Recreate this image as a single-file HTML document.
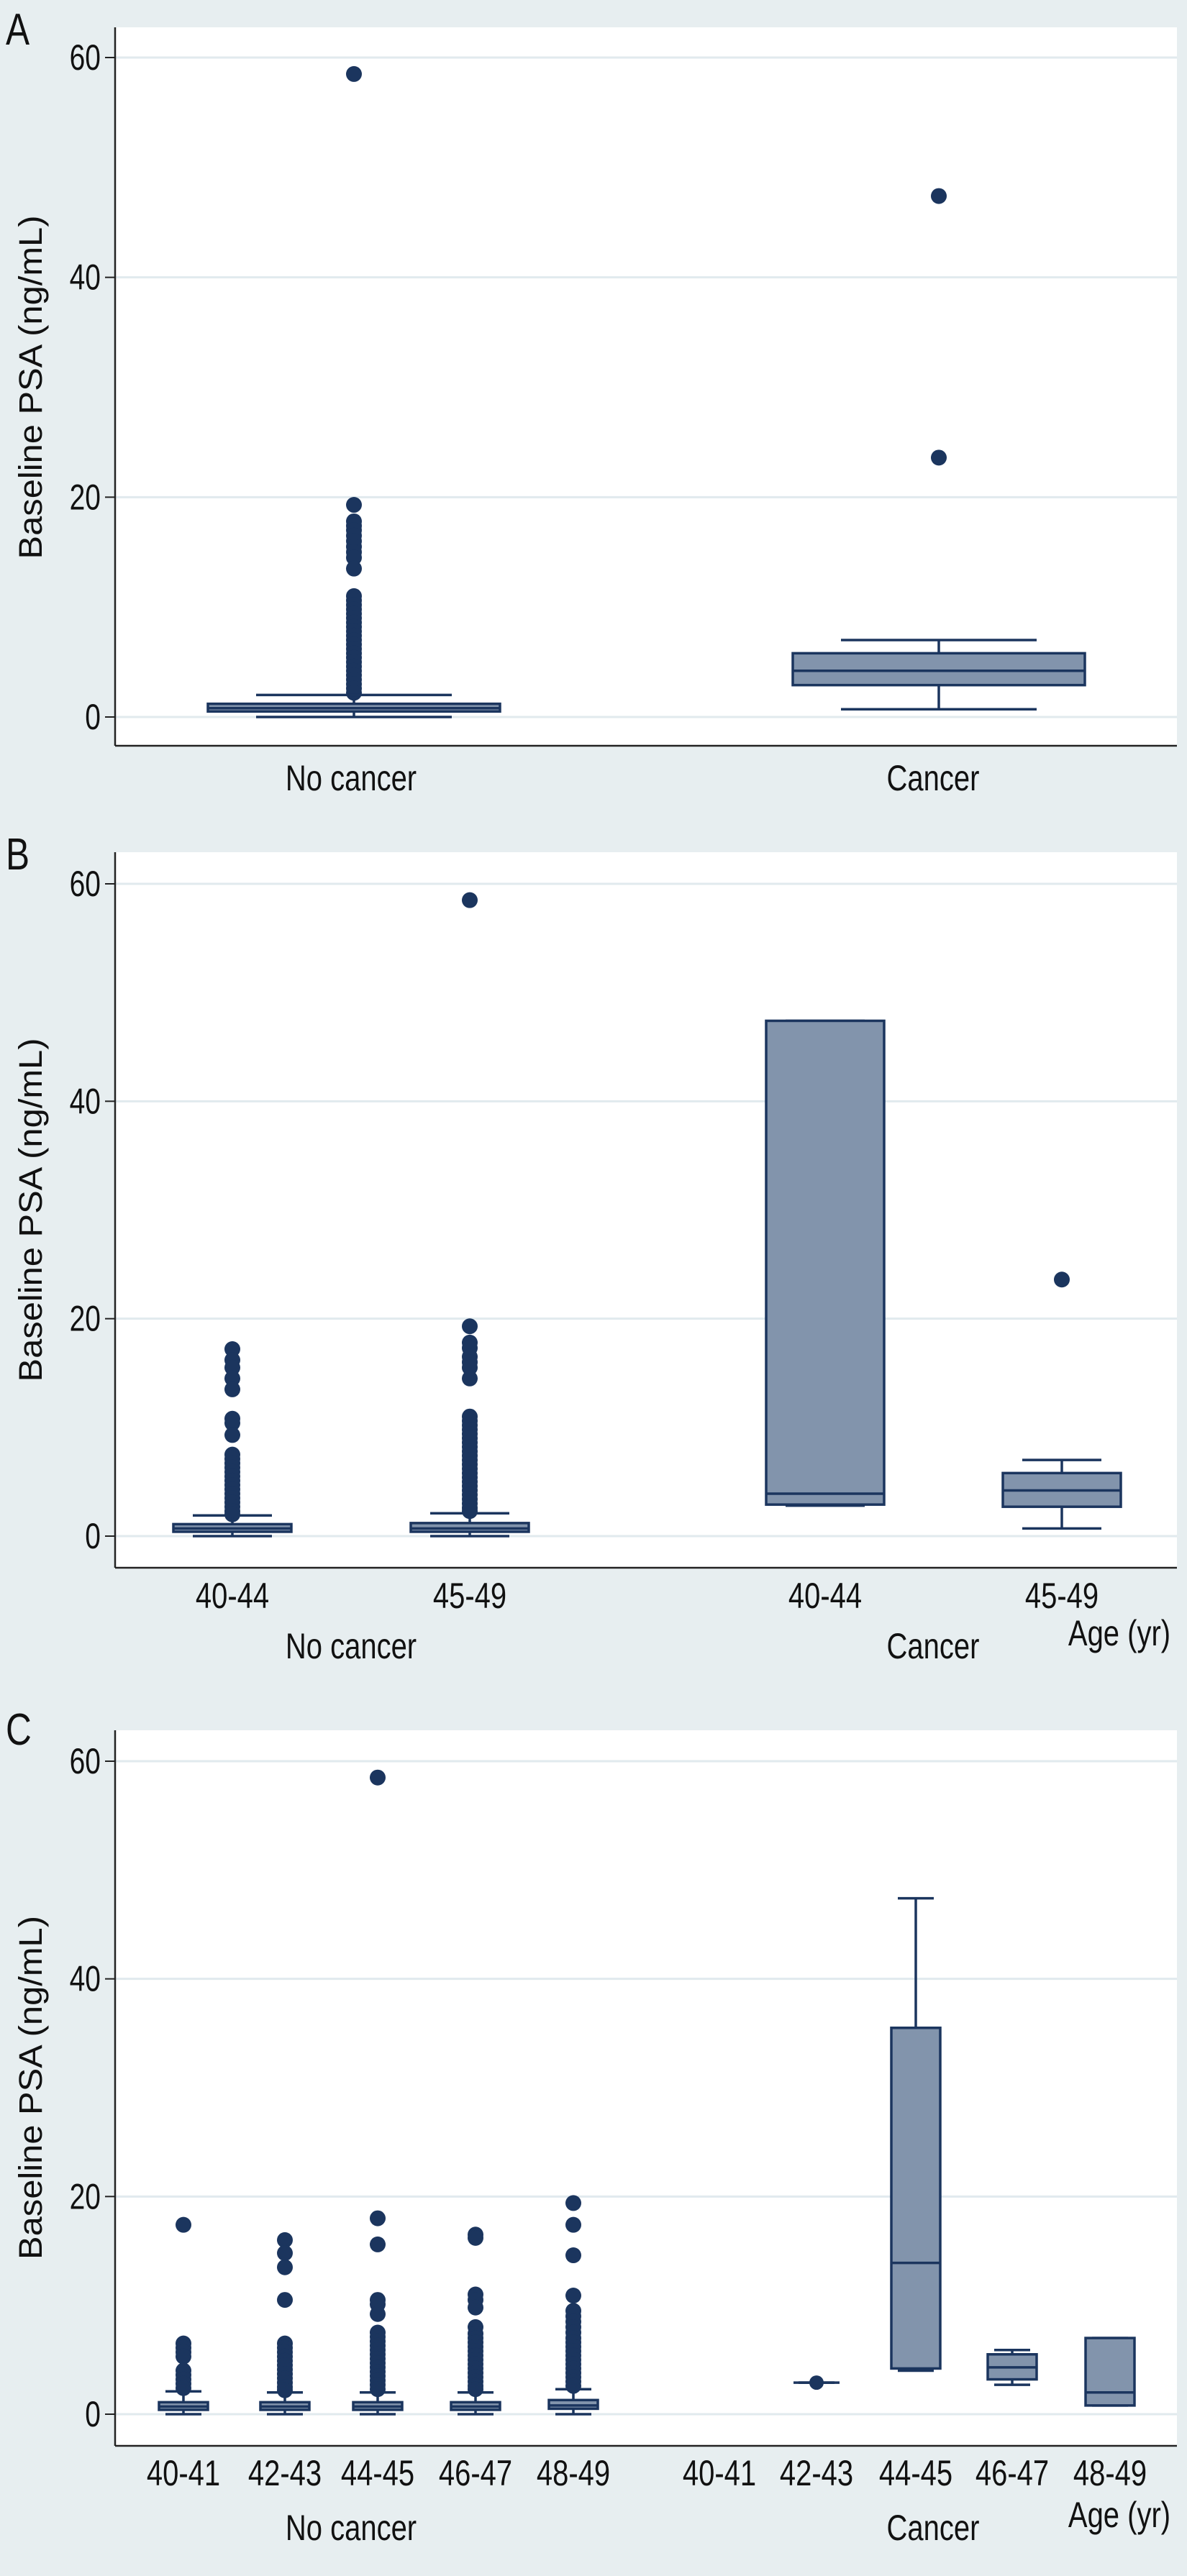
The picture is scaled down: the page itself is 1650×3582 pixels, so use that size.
<!DOCTYPE html>
<html><head><meta charset="utf-8"><title>Baseline PSA boxplots</title>
<style>
html,body{margin:0;padding:0;background:#e7eef0;}
svg{display:block;}
</style></head>
<body>
<svg id="chart" width="1650" height="3582" viewBox="0 0 1650 3582" xmlns="http://www.w3.org/2000/svg" font-family="'Liberation Sans', Arial, sans-serif">
<rect x="0" y="0" width="1650" height="3582" fill="#e7eef0"/>
</svg>
<script>
// ---------- data ----------
const yTicks = [0, 20, 40, 60];
const yTickLabels = ["0", "20", "40", "60"];

// Panel A
const catsA = ["No cancer", "Cancer"];
const boxA_q1 = [0.5, 2.9];
const boxA_med = [0.8, 4.2];
const boxA_q3 = [1.2, 5.8];
const boxA_lo = [0.0, 0.7];
const boxA_hi = [2.0, 7.0];
const outA_noCancer = [58.5, 19.3, 17.8, 17.4, 17.0, 16.5, 16.0, 15.5, 15.0, 14.5, 13.5,
  11.0, 10.6, 10.2, 9.8, 9.4, 9.0, 8.6, 8.2, 7.8, 7.4, 7.0, 6.6, 6.2, 5.8, 5.4, 5.0, 4.6, 4.2, 3.8, 3.4, 3.0, 2.6, 2.2];
const outA_cancer = [47.4, 23.6];

// Panel B
const catsB = ["40-44", "45-49", "40-44", "45-49"];
const boxB_q1 = [0.4, 0.4, 2.9, 2.7];
const boxB_med = [0.7, 0.7, 3.9, 4.2];
const boxB_q3 = [1.1, 1.2, 47.4, 5.8];
const boxB_lo = [0.0, 0.0, 2.8, 0.7];
const boxB_hi = [1.9, 2.1, 47.4, 7.0];
const outB_0 = [17.2, 16.2, 15.5, 14.5, 13.5, 10.8, 10.4, 9.3, 7.5, 7.1, 6.7, 6.3, 5.9, 5.5, 5.1, 4.7, 4.3, 3.9, 3.5, 3.1, 2.7, 2.3, 2.0];
const outB_1 = [58.5, 19.3, 17.8, 17.3, 16.5, 16.0, 15.5, 14.5, 11.0, 10.6, 10.2, 9.8, 9.4, 9.0, 8.6, 8.2, 7.8, 7.4, 7.0, 6.6, 6.2, 5.8, 5.4, 5.0, 4.6, 4.2, 3.8, 3.4, 3.0, 2.6, 2.3];
const outB_2 = [];
const outB_3 = [23.6];

// Panel C
const catsC = ["40-41", "42-43", "44-45", "46-47", "48-49", "40-41", "42-43", "44-45", "46-47", "48-49"];
const boxC_q1 = [0.4, 0.4, 0.4, 0.4, 0.5, null, 2.9, 4.2, 3.2, 0.8];
const boxC_med = [0.7, 0.7, 0.7, 0.7, 0.8, null, 2.9, 13.9, 4.3, 2.0];
const boxC_q3 = [1.1, 1.1, 1.1, 1.1, 1.3, null, 2.9, 35.5, 5.5, 7.0];
const boxC_lo = [0.0, 0.0, 0.0, 0.0, 0.0, null, 2.9, 4.0, 2.7, 0.8];
const boxC_hi = [2.1, 2.0, 2.0, 2.0, 2.3, null, 2.9, 47.4, 5.9, 7.0];
const outC_0 = [17.4, 6.5, 6.1, 5.7, 5.3, 4.0, 3.6, 3.2, 2.8, 2.4];
const outC_1 = [16.0, 14.8, 13.5, 10.5, 6.5, 6.1, 5.7, 5.3, 4.9, 4.5, 4.1, 3.7, 3.3, 2.9, 2.5, 2.2];
const outC_2 = [58.5, 18.0, 15.6, 10.5, 10.1, 9.2, 7.5, 7.1, 6.7, 6.3, 5.9, 5.5, 5.1, 4.7, 4.3, 3.9, 3.5, 3.1, 2.7, 2.3];
const outC_3 = [16.5, 16.2, 11.0, 10.5, 9.8, 8.0, 7.4, 7.0, 6.6, 6.2, 5.8, 5.4, 5.0, 4.6, 4.2, 3.8, 3.4, 3.0, 2.6, 2.3];
const outC_4 = [19.4, 17.4, 14.6, 10.9, 9.5, 9.0, 8.5, 8.0, 7.5, 7.0, 6.6, 6.2, 5.8, 5.4, 5.0, 4.6, 4.2, 3.8, 3.4, 3.0, 2.6];
const outC_5 = [];
const outC_6 = [];
const outC_7 = [];
const outC_8 = [];
const outC_9 = [];

// ---------- drawing ----------
const NS = "http://www.w3.org/2000/svg";
const svg = document.getElementById("chart");
const NAVY = "#1b355e", FILL = "#8294ac", GRID = "#e1eaee";

function mk(tag, attrs, parent) {
  const e = document.createElementNS(NS, tag);
  for (const k in attrs) e.setAttribute(k, attrs[k]);
  (parent || svg).appendChild(e);
  return e;
}
function ctext(parent, x, y, str, size, anchor, sx) {
  const t = mk("text", {transform: "translate(" + x + "," + y + ") scale(" + sx + ",1)", "font-size": size, "text-anchor": anchor, fill: "#111"}, parent);
  t.textContent = str;
  return t;
}

function panel(cfg) {
  const g = mk("g", {});
  
  
  const yScale = v => cfg.y0 + (cfg.y60 - cfg.y0) * v / 60;

  const bg = mk("rect", {x: cfg.left, y: cfg.top, width: cfg.right - cfg.left, height: cfg.axisY - cfg.top, fill: "#ffffff"}, g);
  
  

  const letter = ctext(g, 8, cfg.letterY, cfg.letter, 62, "start", 0.8);
  
  

  yTicks.forEach((v, i) => {
    const y = yScale(v);
    const gl = mk("line", {x1: cfg.left, x2: cfg.right, y1: y, y2: y, stroke: GRID, "stroke-width": 3}, g);
    
    
    const tk = mk("line", {x1: cfg.left - 14, x2: cfg.left, y1: y, y2: y, stroke: "#222", "stroke-width": 2}, g);
    
    
    const tl = ctext(g, cfg.left - 20, y + 17, yTickLabels[i], 50, "end", 0.78);
    
    
  });

  const ax = mk("line", {x1: cfg.left, x2: cfg.left, y1: cfg.top, y2: cfg.axisY, stroke: "#222", "stroke-width": 2.5}, g);
  
  
  const bx = mk("line", {x1: cfg.left, x2: cfg.right, y1: cfg.axisY, y2: cfg.axisY, stroke: "#222", "stroke-width": 2.5}, g);
  
  

  const cy = (cfg.y0 + cfg.y60) / 2;
  const yt = mk("text", {transform: "translate(58," + cy + ") rotate(-90)", "font-size": 45, "text-anchor": "middle", fill: "#111", textLength: 478, lengthAdjust: "spacingAndGlyphs"}, g);
  
  
  yt.textContent = "Baseline PSA (ng/mL)";

  cfg.xs.forEach((x, i) => {
    const bgp = mk("g", {}, g);
    
    
    const hw = cfg.boxW / 2, cw = cfg.capW / 2;
    const outs = cfg.outs[i];
    outs.forEach(v => {
      const c = mk("circle", {cx: x, cy: yScale(v), r: 11, fill: NAVY}, bgp);
      
      
    });
    if (cfg.q1[i] === null) return;
    const lo = yScale(cfg.lo[i]), hi = yScale(cfg.hi[i]);
    const q1 = yScale(cfg.q1[i]), q3 = yScale(cfg.q3[i]), md = yScale(cfg.med[i]);
    const w = mk("line", {x1: x, x2: x, y1: hi, y2: lo, stroke: NAVY, "stroke-width": 3.5}, bgp);
    
    
    const c1 = mk("line", {x1: x - cw, x2: x + cw, y1: hi, y2: hi, stroke: NAVY, "stroke-width": 3.5}, bgp);
    
    
    const c2 = mk("line", {x1: x - cw, x2: x + cw, y1: lo, y2: lo, stroke: NAVY, "stroke-width": 3.5}, bgp);
    
    
    if (cfg.q3[i] !== cfg.q1[i]) {
      const r = mk("rect", {x: x - hw, y: q3, width: cfg.boxW, height: Math.max(q1 - q3, 2), fill: FILL, stroke: NAVY, "stroke-width": 3.5}, bgp);
      
      
      const m = mk("line", {x1: x - hw, x2: x + hw, y1: md, y2: md, stroke: NAVY, "stroke-width": 3.5}, bgp);
      
      
    } else {
      const m = mk("line", {x1: x - 32, x2: x + 32, y1: md, y2: md, stroke: NAVY, "stroke-width": 3.5}, bgp);
      
      
      const d = mk("circle", {cx: x, cy: md, r: 10, fill: NAVY}, bgp);
      
      
    }
  });

  if (cfg.tickLabels) cfg.tickLabels.forEach((s, i) => {
    const t = ctext(g, cfg.xs[i], cfg.tickY, s, 50, "middle", 0.8);
    
    
  });
  cfg.groups.forEach(gr => {
    const t = ctext(g, gr.x, cfg.groupY, gr.label, 50, "middle", 0.8);
    
    
  });
  if (cfg.ageY) {
    const t = ctext(g, cfg.ageX, cfg.ageY, "Age (yr)", 50, "middle", 0.8);
    
    
  }
}

panel({name: "panel-a", letter: "A", letterY: 62, left: 160, right: 1636, top: 38, axisY: 1037, y0: 997, y60: 80,
  xs: [492, 1305], boxW: 406, capW: 272,
  q1: boxA_q1, med: boxA_med, q3: boxA_q3, lo: boxA_lo, hi: boxA_hi, outs: [outA_noCancer, outA_cancer],
  groups: [{x: 488, label: catsA[0]}, {x: 1297, label: catsA[1]}], groupY: 1099});

panel({name: "panel-b", letter: "B", letterY: 1209, left: 160, right: 1636, top: 1185, axisY: 2180, y0: 2136, y60: 1229,
  xs: [323, 653, 1147, 1476], boxW: 164, capW: 110,
  q1: boxB_q1, med: boxB_med, q3: boxB_q3, lo: boxB_lo, hi: boxB_hi, outs: [outB_0, outB_1, outB_2, outB_3],
  tickLabels: catsB, tickY: 2236,
  groups: [{x: 488, label: "No cancer"}, {x: 1297, label: "Cancer"}], groupY: 2306, ageX: 1556, ageY: 2288});

panel({name: "panel-c", letter: "C", letterY: 2426, left: 160, right: 1636, top: 2406, axisY: 3401, y0: 3357, y60: 2449,
  xs: [255, 396, 525, 661, 797, 1000, 1135, 1273, 1407, 1543], boxW: 68, capW: 50,
  q1: boxC_q1, med: boxC_med, q3: boxC_q3, lo: boxC_lo, hi: boxC_hi,
  outs: [outC_0, outC_1, outC_2, outC_3, outC_4, outC_5, outC_6, outC_7, outC_8, outC_9],
  tickLabels: catsC, tickY: 3456,
  groups: [{x: 488, label: "No cancer"}, {x: 1297, label: "Cancer"}], groupY: 3532, ageX: 1556, ageY: 3514});
</script>
</body></html>
